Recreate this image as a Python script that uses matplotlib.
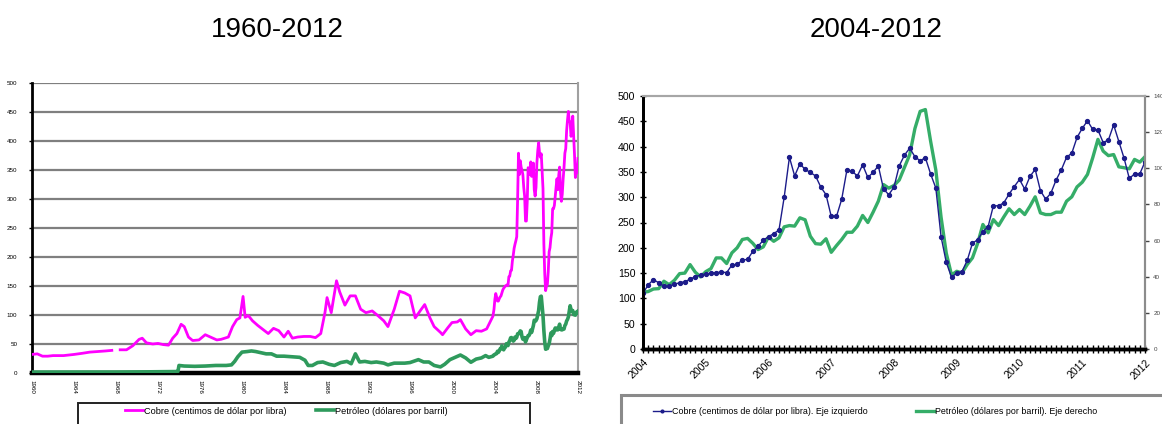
import numpy as np
import matplotlib
matplotlib.use("Agg")
import matplotlib.pyplot as plt
from matplotlib.patches import Rectangle

plt.rcParams['font.family'] = ['Liberation Sans', 'DejaVu Sans']

# Copper (US cents per lb) and oil (US$ per barrel), 1960-2003, irregular readings
hist_years_cu = [1960.0, 1960.5, 1961.0, 1961.5, 1962.0, 1963.0, 1964.0, 1964.8, 1965.5, 1966.3,
                 1967.0, 1967.6, 1968.0, 1968.4, 1969.0, 1969.6, 1970.2, 1970.5, 1970.9, 1971.5,
                 1972.0, 1972.5, 1973.0, 1973.4, 1973.8, 1974.2, 1974.5, 1974.9, 1975.3, 1975.9,
                 1976.5, 1977.0, 1977.6, 1978.0, 1978.7, 1979.1, 1979.5, 1979.8, 1980.1, 1980.3,
                 1980.6, 1981.0, 1981.5, 1982.0, 1982.5, 1983.0, 1983.5, 1984.0, 1984.4, 1984.8,
                 1985.3, 1985.9, 1986.5, 1987.0, 1987.5, 1987.9, 1988.1, 1988.5, 1989.0, 1989.3,
                 1989.8, 1990.3, 1990.8, 1991.3, 1991.8, 1992.4, 1993.0, 1993.5, 1993.9, 1994.5,
                 1995.0, 1995.5, 1996.0, 1996.5, 1997.0, 1997.4, 1997.9, 1998.3, 1998.9, 1999.1,
                 1999.6, 2000.0, 2000.5, 2000.8, 2001.3, 2001.8, 2002.3, 2002.8, 2003.3, 2003.9]
hist_cu = [32, 33, 29, 29, 30, 30, 32, 34, 36, 37,
           38, 39, np.nan, 40, 40, 47, 58, 60, 52, 50,
           51, 49, 48, 60, 68, 84, 80, 62, 56, 57,
           66, 62, 57, 58, 62, 80, 92, 95, 132, 96,
           99, 90, 82, 75, 68, 77, 73, 62, 72, 60,
           62, 63, 63, 61, 68, 104, 130, 104, 159, 140,
           117, 133, 133, 110, 104, 107, 98, 90, 80, 110,
           141, 138, 133, 95, 108, 118, 95, 80, 70, 66,
           78, 87, 88, 92, 76, 66, 73, 72, 76, 98]

hist_years_oil = [1960.0, 1962.0, 1965.0, 1968.0, 1971.0, 1973.8, 1973.9, 1974.0, 1974.5, 1975.5,
                  1976.5, 1977.5, 1978.5, 1979.0, 1979.3, 1979.6, 1980.0, 1980.5, 1980.9, 1981.3,
                  1981.8, 1982.3, 1982.8, 1983.3, 1984.0, 1984.8, 1985.5, 1986.0, 1986.3, 1986.7,
                  1987.2, 1987.7, 1988.3, 1988.8, 1989.4, 1990.0, 1990.4, 1990.8, 1991.2, 1991.7,
                  1992.3, 1992.8, 1993.5, 1993.9, 1994.5, 1995.0, 1995.5, 1996.0, 1996.8, 1997.3,
                  1997.8, 1998.3, 1998.9, 1999.3, 1999.8, 2000.3, 2000.8, 2001.3, 2001.8, 2002.3,
                  2002.8, 2003.2, 2003.5, 2003.9]
hist_oil = [1.6, 1.6, 1.6, 1.7, 2.0, 2.5, 2.8, 13, 12, 11.5,
            12, 13, 13, 14, 20, 28, 36, 37, 38, 37,
            35, 33, 33, 29, 29, 28, 27, 22, 13, 13,
            18, 19, 15, 13, 18, 20, 16, 33, 19, 20,
            18, 19, 17, 14, 17, 17, 17, 18, 23, 19,
            19, 13, 10.5, 15, 23, 27, 31, 26, 18.5, 24,
            26, 30, 27, 29]

# Monthly series, January 2004 - January 2012
cu_monthly = [110, 127, 137, 131, 124, 124, 128, 131, 133, 138, 143, 146,
              148, 150, 151, 152, 151, 166, 167, 176, 177, 193, 203, 215,
              222, 228, 235, 300, 379, 342, 366, 355, 349, 342, 320, 305,
              262, 262, 296, 354, 351, 342, 364, 339, 349, 362, 316, 305,
              320, 362, 383, 397, 380, 372, 378, 346, 318, 222, 171, 142,
              150, 153, 175, 209, 216, 232, 242, 283, 283, 289, 306, 321,
              335, 316, 341, 355, 313, 296, 308, 334, 354, 379, 387, 418,
              436, 451, 434, 433, 408, 413, 443, 410, 377, 337, 346, 346,
              370]
oil_monthly = [31.4, 31.8, 33.2, 33.4, 37.5, 35.6, 38.0, 41.7, 42.0, 46.7, 42.5, 39.9,
               42.8, 44.5, 50.4, 50.4, 47.3, 53.2, 56.0, 60.6, 61.2, 58.5, 55.0, 56.5,
               62.0, 59.6, 61.5, 67.6, 68.3, 68.0, 72.6, 71.5, 62.4, 58.3, 58.0, 61.0,
               53.5, 57.2, 60.6, 64.6, 64.6, 68.0, 73.9, 70.0, 75.7, 81.8, 91.0, 89.0,
               90.5, 93.5, 100.5, 107.5, 122.0, 131.5, 132.5, 115.0, 99.0, 73.0, 53.0, 41.0,
               43.0, 42.1, 46.7, 50.4, 58.5, 68.9, 64.3, 71.6, 68.3, 73.1, 77.6, 74.4,
               77.2, 74.4, 79.0, 84.2, 75.3, 74.4, 74.4, 75.7, 75.7, 81.8, 84.2, 89.7,
               92.3, 96.6, 105.8, 116.0, 109.5, 107.0, 107.6, 100.8, 100.3, 99.7, 104.9, 103.4,
               106.4]

long_ticks = list(range(1960, 2013, 4))
short_ticks = list(range(2004, 2013))

copper_label = 'Cobre (centimos de dólar por libra)'
oil_label = 'Petróleo (dólares por barril)'

W, H = 1162, 424
fig = plt.figure(figsize=(W / 100, H / 100), dpi=100)


def frac(x0, y_top, x1, y_bot):
    return [x0 / W, 1 - y_bot / H, (x1 - x0) / W, (y_bot - y_top) / H]


months = 2004 + np.arange(len(cu_monthly)) / 12.0
long_x_cu = np.concatenate([hist_years_cu, months])
long_cu = np.concatenate([hist_cu, cu_monthly])
long_x_oil = np.concatenate([hist_years_oil, months])
long_oil = np.concatenate([hist_oil, oil_monthly])

# ---- left panel: 1960-2012
ax1 = fig.add_axes(frac(32, 83, 578, 373))
ax1.plot(long_x_oil, long_oil, color='#2e9a5c', lw=2.6, label=oil_label, zorder=3)
ax1.plot(long_x_cu, long_cu, color='#ff00ff', lw=2.0, label=copper_label, zorder=4)
ax1.set_xlim(1960, 2012)
ax1.set_ylim(0, 500)
ax1.set_yticks(range(0, 501, 50))
ax1.set_xticks(long_ticks)
ax1.set_xticklabels([str(y) for y in long_ticks], rotation=-90, fontsize=4.5)
ax1.tick_params(axis='y', labelsize=4.5, length=2.5, width=1, direction='out', pad=8)
ax1.tick_params(axis='x', length=0, pad=5)
ax1.yaxis.grid(True, color='#7f7f7f', lw=1.6)
ax1.set_axisbelow(True)
ax1.spines['top'].set_visible(False)
ax1.spines['left'].set_color('black')
ax1.spines['left'].set_linewidth(2)
ax1.spines['bottom'].set_linewidth(3.2)
ax1.spines['right'].set_color('#a0a0a0')
ax1.spines['right'].set_linewidth(1.5)

# ---- right panel: 2004-2012, copper left axis, oil right axis
ax2 = fig.add_axes(frac(643, 96, 1145, 349))
ax3 = ax2.twinx()
ax3.plot(months, oil_monthly, color='#35ad68', lw=2.4, label=oil_label + '. Eje derecho')
ax2.plot(months, cu_monthly, color='#1c1c8a', lw=1.0, marker='o', ms=2.8,
         label=copper_label + '. Eje izquierdo')
ax2.set_zorder(ax3.get_zorder() + 1)
ax2.patch.set_visible(False)

ax2.set_xlim(2004, 2012)
ax2.set_ylim(0, 500)
ax2.set_yticks(range(0, 501, 50))
ax2.tick_params(axis='y', labelsize=7.6, length=5, width=1, direction='inout', pad=3)
ax2.set_xticks(short_ticks)
ax2.set_xticklabels([str(y) for y in short_ticks], rotation=45, fontsize=7.6,
                    ha='right', rotation_mode='anchor')
ax2.set_xticks(months, minor=True)
ax2.tick_params(axis='x', which='both', length=6, width=1, direction='inout', pad=3)
ax3.set_ylim(0, 140)
ax3.set_yticks(range(0, 141, 20))
ax3.tick_params(axis='y', labelsize=4.5, length=3, width=1, direction='out',
                colors='#444444', pad=3)

for a in (ax2, ax3):
    a.spines['top'].set_color('#a6a6a6')
    a.spines['top'].set_linewidth(1.5)
    a.spines['right'].set_color('#8c8c8c')
    a.spines['right'].set_linewidth(1.5)
    a.spines['left'].set_linewidth(2)
    a.spines['bottom'].set_linewidth(2.5)

# ---- titles
fig.text(277 / W, 1 - 30 / H, '1960-2012', ha='center', va='center', fontsize=20)
fig.text(876 / W, 1 - 30 / H, '2004-2012', ha='center', va='center', fontsize=20)

# ---- legend boxes
fig.add_artist(Rectangle((78 / W, -0.05), (530 - 78) / W, (1 - 403 / H) + 0.05,
                         transform=fig.transFigure, fill=False, ec='#222222', lw=1.4))
fig.add_artist(Rectangle((621 / W, -0.05), 0.5, (1 - 395 / H) + 0.05,
                         transform=fig.transFigure, fill=False, ec='#8a8a8a', lw=2.2))

h1, l1 = ax1.get_legend_handles_labels()
fig.legend(h1[::-1], l1[::-1], loc='center left', bbox_to_anchor=(125 / W, 1 - 411 / H),
           frameon=False, ncol=2, fontsize=6.6, handlelength=2.0, handletextpad=0.1,
           columnspacing=3.2, borderpad=0, borderaxespad=0)
hc, lc = ax2.get_legend_handles_labels()
ho, lo = ax3.get_legend_handles_labels()
fig.legend(hc + ho, lc + lo, loc='center left', bbox_to_anchor=(653 / W, 1 - 412 / H),
           frameon=False, ncol=2, fontsize=6.4, handlelength=2.0, handletextpad=0.1,
           columnspacing=5.5, borderpad=0, borderaxespad=0, markerscale=0.7)

fig.savefig('out.png', dpi=100)
